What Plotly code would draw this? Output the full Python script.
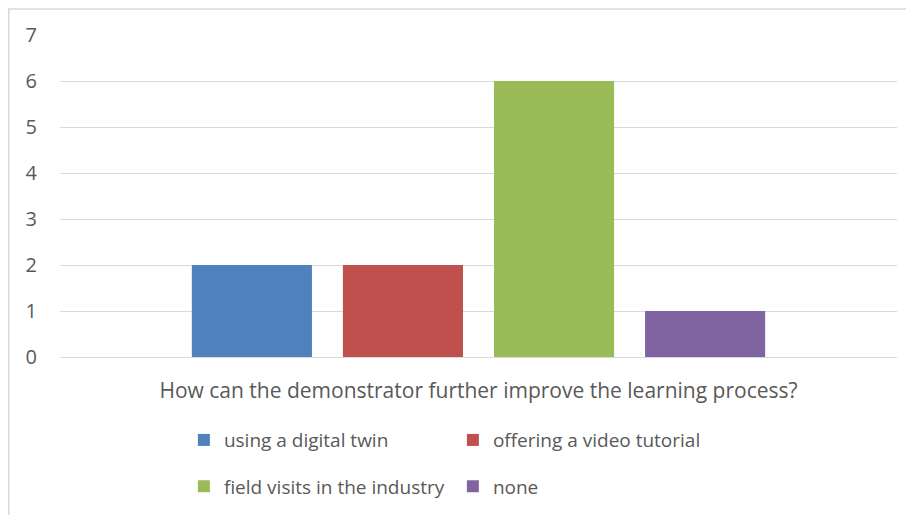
import plotly.graph_objects as go

# survey question (single category) and answer counts
question = ["How can the demonstrator further improve the learning process?"]
series_names = ["using a digital twin", "offering a video tutorial",
                "field visits in the industry", "none"]
counts = [2, 2, 6, 1]
colors = ["#4F81BD", "#C0504D", "#9BBB59", "#8064A2"]
legend_ids = ["legend", "legend", "legend2", "legend2"]

font_family = "Open Sans, sans-serif"
text_color = "#595959"

fig = go.Figure()
for name, val, col, lg in zip(series_names, counts, colors, legend_ids):
    fig.add_trace(go.Bar(x=question, y=[val], name=name,
                         marker=dict(color=col, line=dict(width=0)),
                         legend=lg))

legend_common = dict(orientation="h", xanchor="left", yanchor="middle",
                     entrywidth=224, entrywidthmode="pixels",
                     font=dict(family=font_family, size=19, color=text_color),
                     bgcolor="rgba(0,0,0,0)", itemclick=False)

# page body has an 8px margin, so the figure is 8px smaller than the window
fig.update_layout(
    width=906, height=507,
    margin=dict(l=52, r=17, t=27, b=158, autoexpand=False),
    paper_bgcolor="white", plot_bgcolor="white",
    font=dict(family=font_family, color=text_color),
    barmode="group", bargap=0.278, bargroupgap=0.205,
    legend=dict(x=0.148, y=-0.258, **legend_common),
    legend2=dict(x=0.148, y=-0.402, **legend_common),
    xaxis=dict(showgrid=False, showline=False, zeroline=False,
               tickfont=dict(size=21, color=text_color),
               ticklabelstandoff=19),
    yaxis=dict(range=[0, 7], dtick=1, showgrid=True, gridcolor="#D9D9D9",
               gridwidth=1.3, zeroline=True, zerolinecolor="#D9D9D9",
               zerolinewidth=1.3, showline=False,
               tickfont=dict(size=20, color=text_color),
               ticklabelstandoff=22),
    shapes=[dict(type="rect", xref="paper", yref="paper",
                 x0=-0.0612, x1=1.019, y0=-0.52, y1=1.081,
                 line=dict(color="#D9D9D9", width=1.5),
                 fillcolor="rgba(0,0,0,0)", layer="below")],
)

fig.write_html("out.html")
